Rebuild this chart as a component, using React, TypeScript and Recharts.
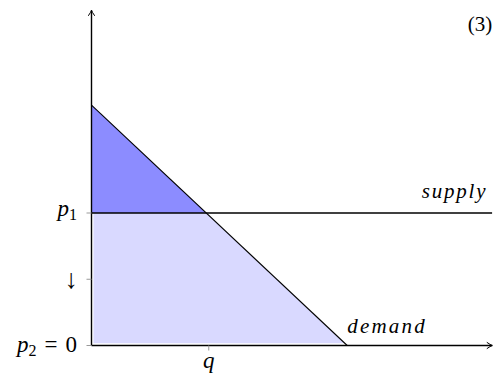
import React from "react";
import { ComposedChart, Area, Line, XAxis, YAxis, ReferenceDot } from "recharts";

// ---- data (in price / quantity units) ----
const demandQ = [0, 3.86];
const demandP = [3.63, 0];
const supplyQ = [0, 6.05];
const supplyP = [2, 2];
const surplusQ = [0, 1.733];
const surplusLow = [2, 2];
const surplusHigh = [3.63, 2];
const spendQ = [0.03, 1.733, 3.823];
const spendLow = [0.035, 0.035, 0.035];
const spendHigh = [2, 2, 0.035];
const yTicks = [0, 1, 2];
const yTickLabels = ["p2 = 0", "↓", "p1"];
const xTicks = [1.77];
const xTickLabels = ["q"];
const xMax = 6.05;
const yMax = 5.06;
const figureTag = "(3)";
const supplyLabel = "supply";
const demandLabel = "demand";

const demandData = demandQ.map((q, i) => ({ q, p: demandP[i] }));
const supplyData = supplyQ.map((q, i) => ({ q, p: supplyP[i] }));
const surplusData = surplusQ.map((q, i) => ({ q, r: [surplusLow[i], surplusHigh[i]] }));
const spendData = spendQ.map((q, i) => ({ q, r: [spendLow[i], spendHigh[i]] }));

const FONT = '"Liberation Serif", "DejaVu Serif", "Times New Roman", serif';
const serif = (size: number, italic = false, extra: any = {}) => ({
  fontFamily: FONT,
  fontSize: size,
  fontStyle: italic ? "italic" : "normal",
  ...extra,
});

const YTick = (props: any) => {
  const { x, y, payload } = props;
  const idx = yTicks.indexOf(payload.value);
  const label = yTickLabels[idx] ?? "";
  const tx = x - 7.5;
  if (label === "↓") {
    return (
      <text x={tx + 1} y={y + 9} textAnchor="end" style={serif(27)} fill="#000">
        {label}
      </text>
    );
  }
  const m = label.match(/^p(\d)(?:\s*=\s*(.*))?$/);
  if (!m) return null;
  const hasRest = m[2] !== undefined;
  const dy = hasRest ? 6.5 : 3;
  return (
    <text x={tx} y={y + dy} textAnchor="end" style={serif(23)} fill="#000">
      <tspan style={{ fontStyle: "italic" }}>p</tspan>
      <tspan style={{ fontSize: 16 }} dy={4}>{m[1]}</tspan>
      {hasRest ? <tspan dy={-4} dx={8}>=</tspan> : null}
      {hasRest ? <tspan dx={8}>{m[2]}</tspan> : null}
    </text>
  );
};

const XTick = (props: any) => {
  const { x, y, payload } = props;
  const idx = xTicks.indexOf(payload.value);
  return (
    <text x={x} y={y + 15.5} textAnchor="middle" style={serif(23, true)} fill="#000">
      {xTickLabels[idx]}
    </text>
  );
};

const UpArrow = (props: any) => {
  const { cx, cy } = props;
  return (
    <path
      d={`M${cx - 3.2},${cy + 5.5} Q${cx - 0.6},${cy + 1.8} ${cx},${cy} Q${cx + 0.6},${cy + 1.8} ${cx + 3.2},${cy + 5.5}`}
      fill="none"
      stroke="#000"
      strokeWidth={1}
    />
  );
};

const RightArrow = (props: any) => {
  const { cx, cy } = props;
  return (
    <path
      d={`M${cx - 5.5},${cy - 3.2} Q${cx - 1.8},${cy - 0.6} ${cx},${cy} Q${cx - 1.8},${cy + 0.6} ${cx - 5.5},${cy + 3.2}`}
      fill="none"
      stroke="#000"
      strokeWidth={1}
    />
  );
};

const SupplyText = (props: any) => (
  <text x={props.cx - 5} y={props.cy - 15} textAnchor="end" style={serif(21, true, { letterSpacing: 1.8 })} fill="#000">
    {supplyLabel}
  </text>
);

const DemandText = (props: any) => (
  <text x={props.cx} y={props.cy - 12.5} textAnchor="start" style={serif(21, true, { letterSpacing: 2.2 })} fill="#000">
    {demandLabel}
  </text>
);

const TagText = (props: any) => (
  <text x={props.cx} y={props.cy + 21} textAnchor="end" style={serif(21)} fill="#000">
    {figureTag}
  </text>
);

export default function App() {
  return (
    <div style={{ position: "absolute", left: 0, top: 0, background: "#fff", fontFamily: FONT }}>
      <ComposedChart width={494} height={375} margin={{ top: 10.3, right: 1.7, bottom: 0, left: 0 }}>
        <XAxis
          dataKey="q"
          type="number"
          domain={[0, xMax]}
          ticks={xTicks}
          allowDataOverflow
          height={29.5}
          tickSize={5}
          tickMargin={2}
          axisLine={{ stroke: "#000", strokeWidth: 1.4 }}
          tickLine={{ stroke: "#999", strokeWidth: 1 }}
          tick={<XTick />}
        />
        <YAxis
          type="number"
          domain={[0, yMax]}
          ticks={yTicks}
          allowDataOverflow
          width={91.5}
          tickSize={5}
          tickMargin={2}
          axisLine={{ stroke: "#000", strokeWidth: 1.4 }}
          tickLine={{ stroke: "#999", strokeWidth: 1 }}
          tick={<YTick />}
        />
        <Area
          data={spendData}
          dataKey="r"
          type="linear"
          fill="#d9d9ff"
          fillOpacity={1}
          stroke="none"
          isAnimationActive={false}
        />
        <Area
          data={surplusData}
          dataKey="r"
          type="linear"
          fill="#8c8cff"
          fillOpacity={1}
          stroke="none"
          isAnimationActive={false}
        />
        <Line data={demandData} dataKey="p" type="linear" stroke="#000" strokeWidth={1.1} dot={false} isAnimationActive={false} />
        <Line data={supplyData} dataKey="p" type="linear" stroke="#000" strokeWidth={1.3} dot={false} isAnimationActive={false} />
        <ReferenceDot x={0} y={yMax} ifOverflow="visible" shape={<UpArrow />} />
        <ReferenceDot x={xMax} y={0} ifOverflow="visible" shape={<RightArrow />} />
        <ReferenceDot x={supplyQ[1]} y={supplyP[1]} ifOverflow="visible" shape={<SupplyText />} />
        <ReferenceDot x={demandQ[1]} y={demandP[1]} ifOverflow="visible" shape={<DemandText />} />
        <ReferenceDot x={xMax} y={yMax} ifOverflow="visible" shape={<TagText />} />
      </ComposedChart>
    </div>
  );
}
